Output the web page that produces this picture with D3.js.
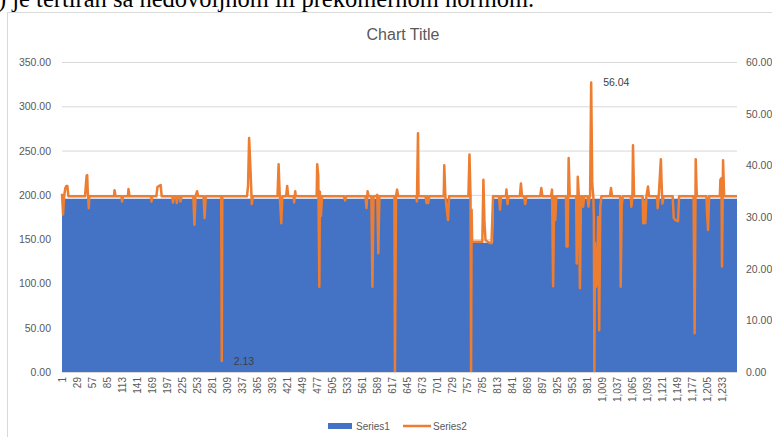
<!DOCTYPE html>
<html>
<head>
<meta charset="utf-8">
<script src="https://cdn.jsdelivr.net/npm/d3@7"></script>
<style>
  body { margin: 0; background: #fff; }
  text { font-family: "Liberation Sans", Arial, sans-serif; }
</style>
</head>
<body>
<svg id="chart" width="772" height="437"></svg>
<script>
// categories 1..1260
let nCategories = 1260;
let tickLabels = [1, 29, 57, 85, 113, 141, 169, 197, 225, 253, 281, 309, 337, 365, 393, 421, 449,
    477, 505, 533, 561, 589, 617, 645, 673, 701, 729, 757, 785, 813, 841, 869, 897, 925, 953, 981,
    1009, 1037, 1065, 1093, 1121, 1149, 1177, 1205, 1233];
let leftTicks = [0, 50, 100, 150, 200, 250, 300, 350];
let rightTicks = [0, 10, 20, 30, 40, 50, 60];

// Series1 (area, left axis): [category, value]
let series1 = [[1, 195.5], [763, 195.5], [764, 146], [805, 146], [806, 195.5], [1260, 195.5]];

// Series2 (line, right axis): [category, value]
let series2 = [
    [1, 34.5], [3, 30.5], [5, 34], [7, 35.5], [9, 36], [11, 36], [13, 34],
    [44, 34], [45, 35.5], [47, 38], [48, 38.1], [49, 35], [51, 31.7], [52, 34],
    [98, 34], [99, 35.2], [101, 34], [112, 34], [113, 33], [115, 34],
    [124, 34], [125, 35.4], [127, 34], [167, 34], [168, 33], [169, 34],
    [177, 34], [179, 35.8], [182, 36], [185, 36.2], [187, 34],
    [207, 34], [208, 32.8], [210, 34], [214, 34], [215, 32.7], [217, 34],
    [221, 34], [222, 33], [224, 34],
    [246, 34], [248, 28.5], [250, 34], [253, 35], [255, 34],
    [265, 34], [267, 29.8], [269, 34],
    [298, 34], [299, 2.13], [300, 34],
    [346, 34], [348, 36], [350, 45.3], [351, 43], [353, 38], [355, 32.5], [357, 34],
    [403, 34], [405, 40.2], [407, 34.5], [410, 28.8], [412, 34],
    [419, 34], [421, 36], [423, 34], [433, 34], [434, 32.8], [436, 35], [437, 34],
    [476, 34], [477, 40.2], [479, 38], [481, 16.5], [482, 34.9], [484, 30.2], [486, 34],
    [527, 34], [529, 33.2], [531, 34],
    [567, 34], [569, 31.7], [571, 35], [573, 34],
    [578, 34], [580, 16.5], [582, 34],
    [587, 34], [589, 34.3], [591, 23], [593, 34],
    [621, 34], [622, 0], [624, 34], [626, 35.3], [628, 34],
    [662, 34], [663, 33], [665, 46.2], [666, 34],
    [679, 34], [681, 32.7], [682, 34], [684, 32.7], [686, 34],
    [713, 34], [714, 40], [716, 34], [721, 29.4], [723, 34],
    [759, 34], [761, 42.1], [763, 34], [764, 0], [765, 31.4], [766, 25.2],
    [785, 25.2], [787, 37.2], [789, 28.8], [791, 25.5], [798, 25], [802, 24.9], [805, 34],
    [816, 34], [818, 31.4], [820, 34], [829, 34], [830, 35.3], [832, 32.5], [834, 34],
    [855, 34], [857, 36.5], [859, 34], [863, 34], [865, 32.5], [867, 34],
    [893, 34], [895, 35.6], [897, 34],
    [913, 34], [915, 35.3], [917, 16.6], [919, 34], [921, 29.4], [923, 34],
    [941, 34], [942, 24.3], [944, 24.3], [946, 41.4], [948, 34],
    [960, 34], [961, 21], [963, 37.8], [965, 34], [967, 16.2], [969, 34],
    [972, 34], [973, 32], [975, 34], [981, 34], [983, 32], [985, 34],
    [986, 34], [988, 56.04], [990, 36.5], [992, 34], [993, 30], [994, 0], [995, 25],
    [997, 16.5], [999, 18], [1001, 30], [1003, 8.1], [1005, 32], [1007, 34],
    [1023, 34], [1025, 35.6], [1027, 34],
    [1042, 34], [1043, 16.5], [1045, 32.3], [1047, 34],
    [1062, 34], [1063, 32], [1065, 34], [1066, 43.9], [1068, 34],
    [1084, 34], [1085, 28.8], [1087, 33], [1089, 28.8], [1091, 34], [1094, 35.9], [1096, 34],
    [1111, 34], [1112, 31.7], [1114, 34], [1118, 41.2], [1120, 34.5], [1121, 32.6], [1123, 34],
    [1140, 34], [1142, 29.8], [1145, 29.4], [1150, 29.2], [1152, 34],
    [1179, 34], [1181, 7.5], [1183, 41.2], [1185, 34],
    [1203, 34], [1204, 31], [1206, 27.5], [1208, 34],
    [1228, 34], [1229, 37.2], [1231, 37.5], [1232, 20.4], [1234, 41], [1236, 34],
    [1260, 34]
];

// data labels on series2
let dataLabels = [[299, 2.13], [988, 56.04]];

let svg = d3.select("#chart");
let plot = {left: 62, right: 737, top: 62, bottom: 372};

let x = d3.scaleLinear().domain([1, nCategories]).range([plot.left, plot.right]);
let yLeft = d3.scaleLinear().domain([0, 350]).range([plot.bottom, plot.top]);
let yRight = d3.scaleLinear().domain([0, 60]).range([plot.bottom, plot.top]);

// page text above the chart (cut by the page edge, as in the source)
svg.append("text")
    .attr("x", -2).attr("y", 7)
    .style("font-family", "'Liberation Serif', 'DejaVu Serif', serif")
    .style("font-size", "24.5px")
    .attr("fill", "#000")
    .text(") je tertiran sa nedovoljnom ili prekomernom normom.");

// chart border
svg.append("rect")
    .attr("x", 7.5).attr("y", 12.5)
    .attr("width", 800).attr("height", 500)
    .attr("fill", "none").attr("stroke", "#d9d9d9");

svg.append("text")
    .attr("x", 403).attr("y", 40)
    .attr("text-anchor", "middle")
    .style("font-size", "16px")
    .attr("fill", "#595959")
    .text("Chart Title");

// gridlines
svg.append("g").selectAll("line")
    .data(leftTicks.filter(d => d > 0))
    .join("line")
    .attr("x1", plot.left).attr("x2", plot.right)
    .attr("y1", d => yLeft(d) + 0.5).attr("y2", d => yLeft(d) + 0.5)
    .attr("stroke", "#d9d9d9");

let area = d3.area()
    .x(d => x(d[0]))
    .y0(yLeft(0))
    .y1(d => yLeft(d[1]));

svg.append("path")
    .datum(series1)
    .attr("d", area)
    .attr("fill", "#4472c4");

let line = d3.line()
    .x(d => x(d[0]))
    .y(d => yRight(d[1]));

svg.append("path")
    .datum(series2)
    .attr("d", line)
    .attr("fill", "none")
    .attr("stroke", "#ed7d31")
    .attr("stroke-width", 2.5)
    .attr("stroke-linejoin", "round");

// x axis line
svg.append("line")
    .attr("x1", plot.left).attr("x2", plot.right)
    .attr("y1", plot.bottom + 0.5).attr("y2", plot.bottom + 0.5)
    .attr("stroke", "#d9d9d9");

// left axis labels
svg.append("g").selectAll("text")
    .data(leftTicks)
    .join("text")
    .attr("x", 51)
    .attr("y", d => yLeft(d) + 4)
    .attr("text-anchor", "end")
    .style("font-size", "10.5px")
    .attr("fill", "#595959")
    .text(d => d3.format(".2f")(d));

// right axis labels
svg.append("g").selectAll("text")
    .data(rightTicks)
    .join("text")
    .attr("x", 746)
    .attr("y", d => yRight(d) + 4)
    .style("font-size", "10.5px")
    .attr("fill", "#595959")
    .text(d => d3.format(".2f")(d));

// category labels, rotated
svg.append("g").selectAll("text")
    .data(tickLabels)
    .join("text")
    .attr("transform", d => `translate(${x(d) + 3.5},${plot.bottom + 5}) rotate(-90)`)
    .attr("text-anchor", "end")
    .style("font-size", "10px")
    .attr("fill", "#595959")
    .text(d => d3.format(",")(d));

// data labels
svg.append("g").selectAll("text")
    .data(dataLabels)
    .join("text")
    .attr("x", d => x(d[0]) + 12)
    .attr("y", d => yRight(d[1]) + 4)
    .style("font-size", "10.5px")
    .attr("fill", "#404040")
    .text(d => d3.format(".2f")(d[1]));

// legend
let legend = svg.append("g");
legend.append("rect")
    .attr("x", 328).attr("y", 423)
    .attr("width", 24).attr("height", 6)
    .attr("fill", "#4472c4");
legend.append("text")
    .attr("x", 356).attr("y", 430)
    .style("font-size", "10px")
    .attr("fill", "#595959")
    .text("Series1");
legend.append("line")
    .attr("x1", 403).attr("x2", 431)
    .attr("y1", 426).attr("y2", 426)
    .attr("stroke", "#ed7d31")
    .attr("stroke-width", 2.5);
legend.append("text")
    .attr("x", 433).attr("y", 430)
    .style("font-size", "10px")
    .attr("fill", "#595959")
    .text("Series2");
</script>
</body>
</html>
